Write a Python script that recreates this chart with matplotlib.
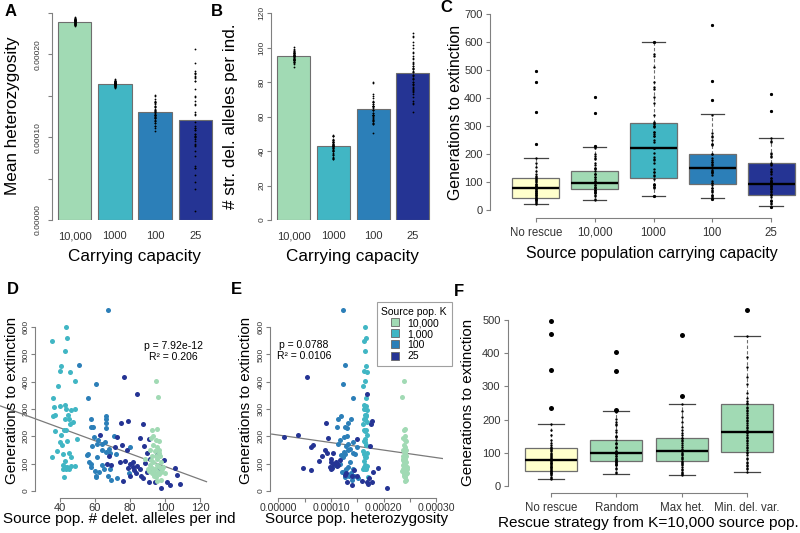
import numpy as np
import matplotlib.pyplot as plt
from matplotlib.lines import Line2D

plt.rcParams['font.family'] = ['Liberation Sans', 'DejaVu Sans']

W, H = 800, 533

# YlGnBu colours
C_NONE = "#ffffcc"
C_10000 = "#a1dab4"
C_1000 = "#41b6c4"
C_100 = "#2c7fb8"
C_25 = "#253494"
AX_COL = "#808080"
TICK_COL = "#333333"
EDGE_COL = "#6e6e6e"

# ---------------- data ----------------
k_labels = ["10,000", "1000", "100", "25"]
k_colors = [C_10000, C_1000, C_100, C_25]
het_mean = [0.000239, 0.000164, 0.000130, 0.000121]
del_mean = [95.1, 43.0, 64.6, 85.5]

# per replicate: generations to extinction, source pop. delet. alleles, source pop. heterozygosity
green_gen = [404, 346, 228, 222, 201, 194, 187, 184, 170, 162, 152, 148, 152, 130, 129, 128, 118, 118, 106, 106,
             96, 96, 89, 84, 79, 82, 72, 71, 70, 79, 62, 62, 65, 52, 67, 38, 41, 55, 74, 89, 113, 140]
green_del = [94.9, 96.0, 95.6, 92.8, 93.3, 91.8, 94.7, 96.8, 93.0, 95.3, 91.6, 94.1, 96.8, 92.6, 94.9, 97.2, 88.8,
             95.6, 93.3, 97.9, 91.4, 95.3, 96.8, 92.6, 94.5, 98.3, 93.3, 95.8, 97.9, 90.3, 94.1, 96.8, 100.2, 94.9,
             92.6, 95.6, 97.5, 93.5, 91.1, 99.1, 92.2, 96.4]
green_het = [0.000239, 0.000234, 0.000240, 0.000238, 0.000241, 0.000237, 0.000240, 0.000242, 0.000238, 0.000241,
             0.000236, 0.000239, 0.000242, 0.000237, 0.000240, 0.000243, 0.000236, 0.000241, 0.000238, 0.000243,
             0.000237, 0.000240, 0.000242, 0.000238, 0.000240, 0.000244, 0.000237, 0.000241, 0.000243, 0.000236,
             0.000239, 0.000242, 0.000244, 0.000240, 0.000238, 0.000241, 0.000243, 0.000239, 0.000235, 0.000245,
             0.000237, 0.000241]

cyan_gen = [601, 559, 549, 511, 456, 440, 434, 404, 383, 340, 309, 313, 316, 300, 298, 299, 280, 279, 273, 265,
            265, 252, 245, 221, 222, 222, 205, 183, 189, 170, 179, 146, 126, 137, 138, 123, 110, 95, 89, 89,
            82, 82, 79, 90, 93, 50]
cyan_del = [43.2, 43.8, 35.4, 42.7, 40.8, 39.8, 45.5, 48.6, 38.9, 36.2, 36.8, 40.2, 43.0, 43.2, 46.5, 48.6, 44.7,
            37.4, 35.7, 42.7, 45.3, 47.2, 45.9, 37.4, 42.3, 43.4, 40.6, 43.8, 49.5, 41.0, 40.2, 38.1, 35.4, 41.5,
            45.3, 46.5, 43.0, 41.9, 42.7, 44.2, 45.3, 41.9, 43.4, 46.3, 48.6, 42.3]
cyan_het = [0.000165, 0.000167, 0.000162, 0.000164, 0.000166, 0.000163, 0.000168, 0.000165, 0.000161, 0.000166,
            0.000164, 0.000167, 0.000163, 0.000165, 0.000168, 0.000162, 0.000166, 0.000164, 0.000167, 0.000163,
            0.000165, 0.000169, 0.000161, 0.000164, 0.000166, 0.000163, 0.000168, 0.000162, 0.000165, 0.000167,
            0.000164, 0.000160, 0.000166, 0.000163, 0.000168, 0.000165, 0.000162, 0.000164, 0.000167, 0.000163,
            0.000166, 0.000161, 0.000165, 0.000168, 0.000164, 0.000170]

mid_gen = [662, 460, 393, 341, 274, 265, 263, 250, 235, 235, 232, 200, 199, 187, 178, 174, 172, 166, 162, 155,
           150, 144, 141, 137, 135, 132, 126, 106, 99, 96, 89, 79, 79, 72, 68, 65, 56, 55, 50, 49, 40]
mid_del = [67.4, 50.7, 60.6, 55.8, 66.1, 66.1, 57.7, 66.1, 59.0, 57.7, 66.1, 71.0, 59.6, 61.9, 65.7, 63.8, 61.0,
           58.5, 80.0, 68.2, 64.0, 66.1, 68.6, 56.0, 71.8, 55.6, 61.0, 56.3, 57.5, 63.8, 57.5, 65.1, 68.6, 60.2,
           62.3, 79.6, 60.6, 67.2, 60.8, 72.8, 68.9]
mid_het = [0.000123, 0.000127, 0.000123, 0.000142, 0.000120, 0.000114, 0.000138, 0.000133, 0.000111, 0.000127,
           0.000130, 0.000131, 0.000125, 0.000117, 0.000142, 0.000113, 0.000133, 0.000128, 0.000150, 0.000136,
           0.000132, 0.000124, 0.000141, 0.000127, 0.000146, 0.000119, 0.000123, 0.000136, 0.000117, 0.000108,
           0.000132, 0.000142, 0.000129, 0.000127, 0.000121, 0.000138, 0.000134, 0.000144, 0.000126, 0.000151,
           0.000140]

navy_gen = [416, 354, 257, 248, 245, 206, 199, 194, 189, 170, 166, 160, 149, 141, 138, 128, 116, 115, 109, 106,
            105, 101, 100, 99, 96, 93, 89, 85, 85, 84, 79, 77, 77, 68, 65, 57, 56, 55, 46, 35,
            34, 34, 34, 27, 21, 13]
navy_del = [76.8, 83.8, 78.9, 74.9, 87.6, 62.7, 72.8, 85.7, 90.7, 75.2, 88.0, 71.5, 78.1, 89.5, 95.3, 67.8, 91.4,
            99.5, 77.3, 81.9, 74.3, 88.4, 67.0, 80.0, 69.1, 84.2, 81.9, 79.1, 96.8, 105.9, 85.7, 82.3, 93.3, 89.5,
            83.4, 106.7, 86.5, 80.0, 87.6, 76.2, 91.1, 94.1, 101.3, 108.6, 102.9, 97.5]
navy_het = [0.000054, 0.000168, 0.000177, 0.000090, 0.000176, 0.000038, 0.000011, 0.000095, 0.000149, 0.000065,
            0.000174, 0.000063, 0.000089, 0.000092, 0.000104, 0.000083, 0.000100, 0.000118, 0.000077, 0.000100,
            0.000109, 0.000109, 0.000104, 0.000111, 0.000113, 0.000111, 0.000098, 0.000046, 0.000190, 0.000102,
            0.000101, 0.000144, 0.000063, 0.000180, 0.000128, 0.000127, 0.000150, 0.000139, 0.000173, 0.000158,
            0.000177, 0.000130, 0.000168, 0.000171, 0.000140, 0.000206]

no_rescue_gen = [21, 25, 28, 33, 35, 38, 40, 42, 44, 45, 48, 50, 53, 56, 58, 60, 63, 65, 68, 70, 72, 75, 78, 79,
                 80, 82, 85, 88, 90, 92, 95, 100, 104, 108, 112, 115, 118, 124, 129, 139, 154, 170, 188, 236,
                 350, 457, 497]
max_het_gen = [32, 35, 38, 42, 48, 52, 58, 62, 65, 70, 73, 76, 80, 83, 88, 93, 96, 100, 104, 106, 108, 112, 118,
               124, 129, 135, 140, 144, 146, 154, 160, 169, 179, 194, 209, 225, 248, 272, 456]
min_del_gen = [42, 50, 53, 60, 63, 70, 73, 80, 83, 92, 98, 103, 108, 113, 118, 124, 129, 135, 139, 144, 149, 155,
               159, 163, 169, 174, 179, 185, 189, 195, 199, 205, 209, 215, 219, 225, 229, 235, 239, 247, 249, 257,
               264, 281, 306, 329, 359, 390, 451, 529]

# box summaries (whisker low, Q1, median, Q3, whisker high)
c_labels = ["No rescue", "10,000", "1000", "100", "25"]
c_lo = [21, 36, 51, 44, 14]
c_q1 = [44, 75, 114, 93, 55]
c_med = [79, 99, 223, 150, 95]
c_q3 = [115, 139, 310, 201, 168]
c_hi = [188, 227, 599, 342, 258]

f_labels = ["No rescue", "Random", "Max het.", "Min. del. var."]
f_lo = [21, 36, 32, 42]
f_q1 = [44, 75, 75, 103]
f_med = [79, 99, 106, 163]
f_q3 = [115, 139, 145, 247]
f_hi = [188, 227, 248, 451]

# regressions (intercept, slope) and stats
fitD = (325.4, -2.354)
fitE = (205.0, -275500.0)
statsD = ("p = 7.92e-12", "R\u00b2 = 0.206")
statsE = ("p = 0.0788", "R\u00b2 = 0.0106")

fig = plt.figure(figsize=(8, 5.33), dpi=100)


def add_ax(x0, x1, y0, y1):
    # pixel box -> figure fraction
    return fig.add_axes([x0 / W, 1 - y1 / H, (x1 - x0) / W, (y1 - y0) / H])


def ftext(x, y, s, **kw):
    fig.text(x / W, 1 - y / H, s, **kw)


def r_axes(ax, ybounds, xbounds=None):
    for sp in ax.spines.values():
        sp.set_visible(False)
    ax.spines['left'].set_visible(True)
    ax.spines['left'].set_bounds(*ybounds)
    ax.spines['left'].set_color(AX_COL)
    ax.spines['left'].set_linewidth(0.8)
    if xbounds is not None:
        ax.spines['bottom'].set_visible(True)
        ax.spines['bottom'].set_bounds(*xbounds)
        ax.spines['bottom'].set_color(AX_COL)
        ax.spines['bottom'].set_linewidth(0.8)
    ax.patch.set_alpha(0)


def rot_yticks(ax, pad):
    ax.tick_params(axis='y', length=3, width=0.8, color=AX_COL, labelsize=6, pad=pad,
                   labelrotation=90, labelcolor=TICK_COL)
    for lbl in ax.get_yticklabels():
        lbl.set_va('center')


# ---------------- A ----------------
het_groups = [green_het, cyan_het, mid_het, navy_het]
del_groups = [green_del, cyan_del, mid_del, navy_del]
bar_x = np.arange(4) * 1.2 + 0.7

axA = add_ax(51.8, 218.2, 13, 220)
axA.bar(bar_x, het_mean, width=1.0, color=k_colors, edgecolor=EDGE_COL, linewidth=0.8, zorder=2)
for x, vals in zip(bar_x, het_groups):
    axA.plot(np.full(len(vals), x), vals, 'o', ms=1.3, color='black', mec='none', zorder=3)
axA.set_xlim(0.016, 4.984)
axA.set_ylim(0, 0.00025)
axA.set_yticks(np.arange(6) * 0.00005, ["0.00000", "", "0.00010", "", "0.00020", ""])
axA.set_xticks(bar_x, k_labels)
axA.tick_params(axis='x', length=0, pad=8, labelsize=8, labelcolor=TICK_COL)
r_axes(axA, (0, 0.00025))
rot_yticks(axA, 4)
ftext(13, 116, "Mean heterozygosity", rotation=90, ha='center', va='center', fontsize=12.3)
ftext(135, 257, "Carrying capacity", ha='center', va='center', fontsize=12.3)

# ---------------- B ----------------
axB = add_ax(271.2, 435.4, 13, 220)
axB.bar(bar_x, del_mean, width=1.0, color=k_colors, edgecolor=EDGE_COL, linewidth=0.8, zorder=2)
for x, vals in zip(bar_x, del_groups):
    axB.plot(np.full(len(vals), x), vals, 'o', ms=1.3, color='black', mec='none', zorder=3)
axB.set_xlim(0.016, 4.984)
axB.set_ylim(0, 120)
axB.set_yticks(np.arange(0, 121, 20))
axB.set_xticks(bar_x, k_labels)
axB.tick_params(axis='x', length=0, pad=8, labelsize=8, labelcolor=TICK_COL)
r_axes(axB, (0, 120))
rot_yticks(axB, 1)
ftext(231, 116, "# str. del. alleles per ind.", rotation=90, ha='center', va='center', fontsize=12.3)
ftext(353, 257, "Carrying capacity", ha='center', va='center', fontsize=12.3)


# ---------------- box panels ----------------
def box_panel(ax, groups, labels, lo, q1, med, q3, hi, colors, dot_ms, flier_ms):
    stats = []
    for vals, a, b, m, c, d in zip(groups, lo, q1, med, q3, hi):
        stats.append(dict(whislo=a, q1=b, med=m, q3=c, whishi=d,
                          fliers=[v for v in vals if v < a or v > d]))
    pos = np.arange(1, len(groups) + 1)
    bp = ax.bxp(stats, positions=pos, widths=0.8, patch_artist=True, capwidths=0.4,
                boxprops=dict(edgecolor=EDGE_COL, linewidth=0.9),
                medianprops=dict(color='black', linewidth=1.7),
                whiskerprops=dict(color=EDGE_COL, linestyle=(0, (3, 2)), linewidth=0.8),
                capprops=dict(color='#444444', linewidth=0.9),
                flierprops=dict(marker='o', markersize=flier_ms, markerfacecolor='black',
                                markeredgecolor='none'))
    for patch, col in zip(bp['boxes'], colors):
        patch.set_facecolor(col)
    for p, vals in zip(pos, groups):
        ax.plot(np.full(len(vals), p), vals, 'o', ms=dot_ms, color='black', mec='none', zorder=4)
    ax.set_xticks(pos, labels)
    ax.tick_params(axis='x', length=3, width=0.8, color=AX_COL, labelsize=8.3, pad=3,
                   labelcolor=TICK_COL)
    ax.tick_params(axis='y', length=3, width=0.8, color=AX_COL, labelsize=8, pad=2.4,
                   labelcolor=TICK_COL)


# ---------------- C ----------------
axC = add_ax(490, 800, 6.2, 218.3)
box_panel(axC, [no_rescue_gen, green_gen, cyan_gen, mid_gen, navy_gen], c_labels,
          c_lo, c_q1, c_med, c_q3, c_hi, [C_NONE] + k_colors, 1.7, 2.3)
axC.set_xlim(0.22, 5.49)
axC.set_ylim(-28.6, 728)
axC.set_yticks(np.arange(0, 701, 100))
r_axes(axC, (0, 700), (1, 5))
ftext(456, 112, "Generations to extinction", rotation=90, ha='center', va='center', fontsize=11.4)
ftext(652, 253, "Source population carrying capacity", ha='center', va='center', fontsize=11.4)

# ---------------- D ----------------
scatter_groups = [(cyan_gen, cyan_del, cyan_het, C_1000),
                  (mid_gen, mid_del, mid_het, C_100),
                  (navy_gen, navy_del, navy_het, C_25),
                  (green_gen, green_del, green_het, C_10000)]

axD = add_ax(35, 206.5, 302.9, 498.3)
for gen, dl, ht, col in scatter_groups:
    axD.scatter(dl, gen, s=13, color=col, linewidths=0, zorder=3)
xsD = np.array([6.0, 123.7])
axD.plot(xsD, fitD[0] + fitD[1] * xsD, color='#7a7a7a', lw=0.9, clip_on=False, zorder=2)
axD.set_xlim(25.7, 123.7)
axD.set_ylim(-26.5, 688.5)
axD.set_xticks(np.arange(40, 121, 20))
axD.set_yticks(np.arange(0, 601, 100))
axD.tick_params(axis='x', length=3, width=0.8, color=AX_COL, labelsize=8, pad=0.5, labelcolor=TICK_COL)
r_axes(axD, (0, 600), (40, 120))
rot_yticks(axD, 1)
ftext(173, 346, statsD[0], ha='center', va='center', fontsize=7.5)
ftext(173, 356.5, statsD[1], ha='center', va='center', fontsize=7.5)
ftext(12.5, 400, "Generations to extinction", rotation=90, ha='center', va='center', fontsize=10.9)
ftext(119, 519, "Source pop. # delet. alleles per ind", ha='center', va='center', fontsize=10.9)

# ---------------- E ----------------
axE = add_ax(270.3, 442.6, 302.9, 498.3)
for gen, dl, ht, col in scatter_groups:
    axE.scatter(ht, gen, s=13, color=col, linewidths=0, zorder=3)
xsE = np.array([-0.0000125, 0.000312])
axE.plot(xsE, fitE[0] + fitE[1] * xsE, color='#7a7a7a', lw=0.9, zorder=2)
axE.set_xlim(-0.0000152, 0.000312)
axE.set_ylim(-26.5, 688.5)
axE.set_xticks(np.arange(7) * 0.00005, ["0.00000", "", "0.00010", "", "0.00020", "", "0.00030"])
axE.set_yticks(np.arange(0, 601, 100))
axE.tick_params(axis='x', length=3, width=0.8, color=AX_COL, labelsize=7.6, pad=0.5, labelcolor=TICK_COL)
r_axes(axE, (0, 600), (0, 0.0003))
rot_yticks(axE, 1)
ftext(304, 345.5, statsE[0], ha='center', va='center', fontsize=7.5)
ftext(304, 356, statsE[1], ha='center', va='center', fontsize=7.5)
ftext(246.5, 400, "Generations to extinction", rotation=90, ha='center', va='center', fontsize=10.9)
ftext(357, 519, "Source pop. heterozygosity", ha='center', va='center', fontsize=10.9)

leg_labels = ["10,000", "1,000", "100", "25"]
handles = [Line2D([], [], marker='s', linestyle='none', markerfacecolor=c, markeredgecolor='#666666',
                  markeredgewidth=0.6, markersize=5.5) for c in k_colors]
leg = axE.legend(handles, leg_labels, title="Source pop. K", loc='upper left',
                 bbox_to_anchor=(376.7 / W, 1 - 302.3 / H), bbox_transform=fig.transFigure,
                 fontsize=7.5, title_fontsize=7.5, frameon=True, fancybox=False, edgecolor='#888888',
                 borderpad=0.45, labelspacing=0.1, handlelength=1.0, handletextpad=0.7, borderaxespad=0)
leg.get_frame().set_linewidth(0.8)

# ---------------- F ----------------
axF = add_ax(508, 790, 296.1, 493.3)
box_panel(axF, [no_rescue_gen, green_gen, max_het_gen, min_del_gen], f_labels,
          f_lo, f_q1, f_med, f_q3, f_hi, [C_NONE, C_10000, C_10000, C_10000], 1.7, 3.6)
axF.set_xlim(0.34, 4.66)
axF.set_ylim(-22, 572)
axF.set_yticks(np.arange(0, 501, 100))
r_axes(axF, (0, 500), (1, 4))
ftext(468.5, 402, "Generations to extinction", rotation=90, ha='center', va='center', fontsize=10.9)
ftext(648, 523, "Rescue strategy from K=10,000 source pop.", ha='center', va='center', fontsize=11.1)

# panel letters
for lx, ly, letter in [(11, 12, "A"), (217, 12, "B"), (446, 8, "C"),
                       (12.5, 290, "D"), (236, 290, "E"), (458.5, 291, "F")]:
    ftext(lx, ly, letter, ha='center', va='center', fontsize=12, fontweight='bold')

fig.savefig("out.png", dpi=100)
